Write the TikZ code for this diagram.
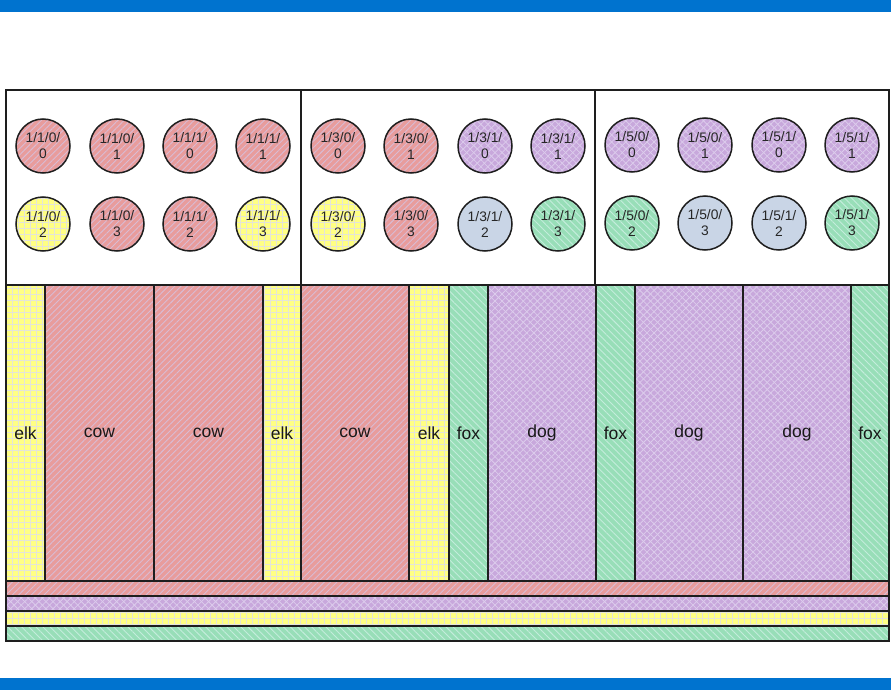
\documentclass[tikz,border=0pt]{standalone}
\usepackage{fontspec}
\setmainfont{Liberation Sans}
\usetikzlibrary{patterns.meta}
\definecolor{cblue}{RGB}{0,115,207}
\definecolor{cred}{HTML}{E89C9C}
\definecolor{credl}{HTML}{D9BCD4}
\definecolor{cyel}{HTML}{FFFF84}
\definecolor{cyell}{HTML}{E4E4D8}
\definecolor{cgrn}{HTML}{98DEB8}
\definecolor{cgrnl}{HTML}{C4ECDC}
\definecolor{cpur}{HTML}{C8A8DC}
\definecolor{cpurl}{HTML}{DCCCEC}
\definecolor{cbg}{HTML}{C9D5E6}
\definecolor{cline}{HTML}{1E1E1E}
\tikzset{
  redfill/.style={preaction={fill=cred}, preaction={pattern={Lines[angle=45,distance=4.5pt,line width=0.9pt]}, pattern color=credl}},
  yelfill/.style={preaction={fill=cyel},
    preaction={pattern={Lines[angle=0,distance=6pt,line width=0.9pt]}, pattern color=cyell},
    preaction={pattern={Lines[angle=90,distance=6pt,line width=0.9pt]}, pattern color=cyell}},
  grnfill/.style={preaction={fill=cgrn}, preaction={pattern={Lines[angle=-45,distance=5pt,line width=0.9pt]}, pattern color=cgrnl}},
  purfill/.style={preaction={fill=cpur},
    preaction={pattern={Lines[angle=45,distance=5pt,line width=0.8pt]}, pattern color=cpurl},
    preaction={pattern={Lines[angle=-45,distance=5pt,line width=0.8pt]}, pattern color=cpurl}},
  bgfill/.style={fill=cbg},
  circ/.style={circle, draw=cline, line width=1.5pt, minimum size=54pt, inner sep=0pt,
    align=center, text=black!85, font=\fontsize{13.8}{16}\selectfont},
  colbox/.style={rectangle, draw=cline, line width=1.5pt, inner sep=0pt, outer sep=0pt,
    minimum height=296pt, anchor=north west, text=black!90, font=\fontsize{17.5}{20}\selectfont},
  modbox/.style={rectangle, draw=cline, line width=1.5pt, inner sep=0pt, outer sep=0pt,
    minimum width=295pt, minimum height=195pt, anchor=north west, fill=white},
  barbox/.style={rectangle, draw=cline, line width=1.5pt, inner sep=0pt, outer sep=0pt,
    minimum width=883pt, minimum height=15pt, anchor=north west},
}
\begin{document}
\begin{tikzpicture}[x=1pt,y=-1pt]
\useasboundingbox (0,0) rectangle (891,690);
\fill[cblue] (0,0) rectangle (891,12);
\fill[cblue] (0,678) rectangle (891,690);
% columns
\node[colbox, yelfill, minimum width=39pt]  (c1)  at (6,285)   {elk};
\node[colbox, redfill, minimum width=109pt] (c2)  at (45,285)  {cow};
\node[colbox, redfill, minimum width=109pt] (c3)  at (154,285) {cow};
\node[colbox, yelfill, minimum width=38pt]  (c4)  at (263,285) {elk};
\node[colbox, redfill, minimum width=108pt] (c5)  at (301,285) {cow};
\node[colbox, yelfill, minimum width=40pt]  (c6)  at (409,285) {elk};
\node[colbox, grnfill, minimum width=39pt]  (c7)  at (449,285) {fox};
\node[colbox, purfill, minimum width=108pt] (c8)  at (488,285) {dog};
\node[colbox, grnfill, minimum width=39pt]  (c9)  at (596,285) {fox};
\node[colbox, purfill, minimum width=108pt] (c10) at (635,285) {dog};
\node[colbox, purfill, minimum width=108pt] (c11) at (743,285) {dog};
\node[colbox, grnfill, minimum width=38pt]  (c12) at (851,285) {fox};
% modules
\node[modbox] (m1) at (6,90) {};
\node[modbox, minimum width=294pt] (m2) at (301,90) {};
\node[modbox, minimum width=294pt] (m3) at (595,90) {};
% bars
\node[barbox, redfill] (b1) at (6,581) {};
\node[barbox, purfill] (b2) at (6,596) {};
\node[barbox, yelfill] (b3) at (6,611) {};
\node[barbox, grnfill] (b4) at (6,626) {};
% module 1 ports
\node[circ, redfill] (p110a) at (43,146) {1/1/0/\\0};
\node[circ, redfill] (p110b) at (117,146) {1/1/0/\\1};
\node[circ, redfill] (p111a) at (190,146) {1/1/1/\\0};
\node[circ, redfill] (p111b) at (263,146) {1/1/1/\\1};
\node[circ, yelfill] (p110c) at (43,224) {1/1/0/\\2};
\node[circ, redfill] (p110d) at (117,224) {1/1/0/\\3};
\node[circ, redfill] (p111c) at (190,224) {1/1/1/\\2};
\node[circ, yelfill] (p111d) at (263,224) {1/1/1/\\3};
% module 2 ports
\node[circ, redfill] (p130a) at (338,146) {1/3/0/\\0};
\node[circ, redfill] (p130b) at (411,146) {1/3/0/\\1};
\node[circ, purfill] (p131a) at (485,146) {1/3/1/\\0};
\node[circ, purfill] (p131b) at (558,146) {1/3/1/\\1};
\node[circ, yelfill] (p130c) at (338,224) {1/3/0/\\2};
\node[circ, redfill] (p130d) at (411,224) {1/3/0/\\3};
\node[circ, bgfill]  (p131c) at (485,224) {1/3/1/\\2};
\node[circ, grnfill] (p131d) at (558,224) {1/3/1/\\3};
% module 3 ports
\node[circ, purfill] (p150a) at (632,145) {1/5/0/\\0};
\node[circ, purfill] (p150b) at (705,145) {1/5/0/\\1};
\node[circ, purfill] (p151a) at (779,145) {1/5/1/\\0};
\node[circ, purfill] (p151b) at (852,145) {1/5/1/\\1};
\node[circ, grnfill] (p150c) at (632,223) {1/5/0/\\2};
\node[circ, bgfill]  (p150d) at (705,223) {1/5/0/\\3};
\node[circ, bgfill]  (p151c) at (779,223) {1/5/1/\\2};
\node[circ, grnfill] (p151d) at (852,223) {1/5/1/\\3};
\end{tikzpicture}
\end{document}
